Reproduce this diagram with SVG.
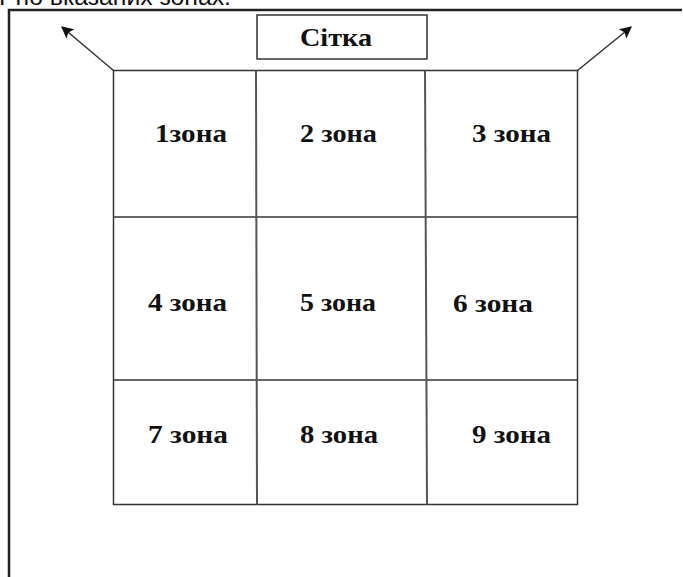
<svg xmlns="http://www.w3.org/2000/svg" width="683" height="577" viewBox="0 0 683 577">
<style>
.lbl{font-family:"Liberation Serif","Times New Roman",serif;font-weight:bold;font-size:26px;fill:#111}
.grid{stroke:#333;stroke-width:1.5;fill:none}
.vgrid{stroke:#555;stroke-width:2;fill:none}
.conn{stroke:#333;stroke-width:1.5;fill:none}
</style>
<defs>
<marker id="ah" viewBox="0 0 10 10" refX="9" refY="5" markerWidth="14" markerHeight="12" markerUnits="userSpaceOnUse" orient="auto">
<path d="M0,0 L10,5 L0,10 L2,5 Z" fill="#111"/>
</marker>
</defs>
<rect width="683" height="577" fill="#fff"/>
<text x="-1" y="5" font-family="Liberation Sans, Arial, sans-serif" font-size="24" fill="#111" textLength="232" lengthAdjust="spacingAndGlyphs">Рно вказаних зонах.</text>
<g id="frame">
<path d="M9,577 L9,10 L682,10" stroke="#222" stroke-width="2.5" fill="none"/>
</g>
<g id="title">
<rect x="257" y="15" width="170" height="44" fill="#fff" stroke="#333" stroke-width="1.5"/>
<text class="lbl" x="300" y="46" font-size="27" textLength="72" lengthAdjust="spacingAndGlyphs">Сітка</text>
</g>
<g id="grid">
<rect class="grid" x="113.5" y="70.5" width="464" height="434"/>
<line class="grid" x1="113.5" y1="217" x2="577.5" y2="217"/>
<line class="grid" x1="113.5" y1="380" x2="577.5" y2="380"/>
<line class="vgrid" x1="256" y1="70.5" x2="257" y2="504.5"/>
<line class="vgrid" x1="425" y1="70.5" x2="427" y2="504.5"/>
</g>
<g id="connectors">
<line class="conn" x1="113.5" y1="70.5" x2="62" y2="27" marker-end="url(#ah)"/>
<line class="conn" x1="577.5" y1="70.5" x2="631" y2="27" marker-end="url(#ah)"/>
</g>
<g id="zone1"><text class="lbl" x="155" y="142" textLength="72" lengthAdjust="spacingAndGlyphs">1зона</text></g>
<g id="zone2"><text class="lbl" x="300" y="142" textLength="77" lengthAdjust="spacingAndGlyphs">2 зона</text></g>
<g id="zone3"><text class="lbl" x="472" y="142" textLength="79" lengthAdjust="spacingAndGlyphs">3 зона</text></g>
<g id="zone4"><text class="lbl" x="148" y="311" textLength="79" lengthAdjust="spacingAndGlyphs">4 зона</text></g>
<g id="zone5"><text class="lbl" x="300" y="311" textLength="76" lengthAdjust="spacingAndGlyphs">5 зона</text></g>
<g id="zone6"><text class="lbl" x="453" y="312" textLength="80" lengthAdjust="spacingAndGlyphs">6 зона</text></g>
<g id="zone7"><text class="lbl" x="148" y="443" textLength="80" lengthAdjust="spacingAndGlyphs">7 зона</text></g>
<g id="zone8"><text class="lbl" x="300" y="443" textLength="78" lengthAdjust="spacingAndGlyphs">8 зона</text></g>
<g id="zone9"><text class="lbl" x="472" y="443" textLength="79" lengthAdjust="spacingAndGlyphs">9 зона</text></g>
</svg>
